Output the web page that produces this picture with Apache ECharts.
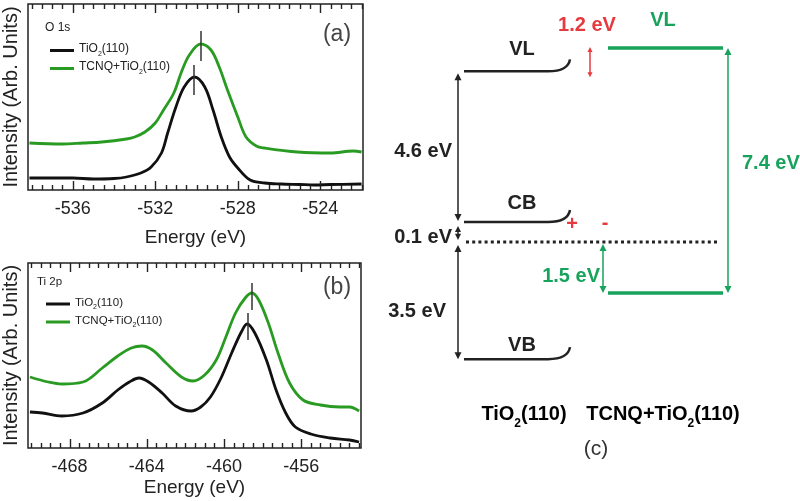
<!DOCTYPE html>
<html>
<head>
<meta charset="utf-8">
<script src="https://cdn.jsdelivr.net/npm/echarts@6/dist/echarts.min.js"></script>
<style>
  html, body { margin: 0; padding: 0; background: #fff; }
  #main { width: 800px; height: 501px; }
</style>
</head>
<body>
<div id="main"></div>
<script>
// ---- data ----
const NAME_BARE = 'TiO2(110)';
const NAME_TCNQ = 'TCNQ+TiO2(110)';

// (a) O 1s: [energy (eV), intensity (arb.)]
const o1sBare = [
  [-538.1, 12], [-537.0, 12], [-536.0, 12], [-535.0, 11], [-534.0, 11.5], [-533.4, 13],
  [-532.7, 17], [-532.2, 23], [-531.7, 37], [-531.4, 57], [-531.0, 83], [-530.6, 103],
  [-530.1, 113], [-529.6, 103], [-529.2, 80], [-528.8, 53], [-528.4, 33], [-528.0, 22],
  [-527.4, 10], [-526.7, 7], [-525.9, 6], [-525.0, 5.5], [-524.3, 5], [-523.5, 5.5], [-522.0, 6]
];
const o1sTcnq = [
  [-538.1, 47], [-536.5, 46], [-535.5, 47], [-534.6, 48], [-533.4, 51], [-533.0, 53],
  [-532.5, 58], [-532.0, 67], [-531.6, 80], [-531.1, 97], [-530.75, 117], [-530.35, 135],
  [-529.8, 146], [-529.3, 140], [-528.9, 123], [-528.5, 100], [-528.0, 73], [-527.6, 53],
  [-527.1, 44], [-526.7, 42], [-525.1, 38], [-523.5, 37], [-522.4, 39], [-522.0, 38]
];
// peak markers: [energy, from, to]
const o1sMarkBare = [-530.12, 95, 125];
const o1sMarkTcnq = [-529.78, 129, 159];

// (b) Ti 2p
const ti2pBare = [
  [-470.05, 36], [-469.4, 35], [-468.4, 32], [-467.3, 35], [-466.3, 45], [-465.5, 58],
  [-464.9, 66], [-464.4, 70], [-463.9, 66], [-463.2, 55], [-462.5, 42], [-461.7, 37],
  [-461.2, 41], [-460.7, 51], [-460.15, 70], [-459.6, 95], [-459.1, 116], [-458.8, 124],
  [-458.4, 115], [-457.8, 88], [-457.3, 58], [-456.8, 35], [-456.3, 21], [-455.5, 14],
  [-454.5, 10], [-453.5, 8], [-453.0, 6]
];
const ti2pTcnq = [
  [-470.05, 71], [-469.1, 66], [-468.4, 64], [-467.3, 66], [-466.3, 80], [-465.5, 92],
  [-464.8, 100], [-464.25, 102], [-463.7, 98], [-463.0, 85], [-462.2, 71], [-461.6, 67],
  [-461.0, 73], [-460.4, 88], [-459.9, 111], [-459.4, 135], [-458.9, 150], [-458.55, 155],
  [-458.2, 148], [-457.7, 125], [-457.2, 95], [-456.6, 65], [-455.9, 48], [-455.0, 43],
  [-454.0, 41], [-453.5, 41], [-453.0, 37]
];
const ti2pMarkBare = [-458.77, 108, 135];
const ti2pMarkTcnq = [-458.56, 138, 165];

const ticksA = [-536, -532, -528, -524];
const ticksB = [-468, -464, -460, -456];
const minorStep = 0.5;

// (c) energy levels, schematic heights relative to E_F (eV, as drawn)
const levelNames = ['VL', 'CB', 'VB', 'VL', ''];
const levelSide  = ['TiO2', 'TiO2', 'TiO2', 'TCNQ', 'TCNQ'];
const levelE     = [4.7, 0.55, -3.23, 5.34, -1.41];
const fermiE = 0;
const gapLabels = ['4.6 eV', '0.1 eV', '3.5 eV', '1.2 eV', '7.4 eV', '1.5 eV'];
const gapTop    = [4.7, 0.55, 0, 5.34, 5.34, 0];
const gapBottom = [0.55, 0, -3.23, 4.7, -1.41, -1.41];

// ---- styling / layout ----
const FONT = '"Liberation Sans", Arial, Helvetica, sans-serif';
const INK = '#222';
const SPEC_BLACK = '#111';
const SPEC_GREEN = '#2a9b22';
const DIAG_GREEN = '#17a35b';
const RED = '#e63a3f';

// diagram columns in diagram x units (0..100)
const COL = { TiO2: [21, 42], TCNQ: [57, 85.75], fermi: [21.5, 84.5] };
const levelLabelPos = [
  { u: 35.5, dy: -22 }, { u: 35.5, dy: -18 }, { u: 35.5, dy: -14 }, { u: 70.75, dy: -28 }, null
];
const gapLayout = [
  { u: 19.5, color: INK, align: 'right', dx: -6, dy: 4, pad: [2, 1] },
  { u: 19.5, color: INK, align: 'right', dx: -6, dy: 5, pad: [4, 2] },
  { u: 19.5, color: INK, align: 'right', dx: -12, dy: 9, pad: [3, 0] },
  { u: 52.5, color: RED, align: 'center', dx: -3, dy: -22, pad: [-1, -6], atTop: true, head: 5 },
  { u: 87, color: DIAG_GREEN, align: 'left', dx: 14, dy: -7, pad: [0, 0] },
  { u: 55.75, color: DIAG_GREEN, align: 'right', dx: -3, dy: 8, pad: [2, 0] }
];

function richName(name) {
  return name.replace(/^(.*TiO)2(\(110\))$/, '{n|$1}{s|2}{n|$2}');
}
function richStyles(size, color, weight) {
  return {
    n: { fontSize: size, fontFamily: FONT, color, fontWeight: weight, lineHeight: Math.round(size * 1.25), verticalAlign: 'top' },
    s: { fontSize: Math.round(size * 0.62), fontFamily: FONT, color, fontWeight: weight, lineHeight: Math.round(size * 0.6), verticalAlign: 'bottom' }
  };
}

function energyAxis(grid, min, max, majors, nameGap) {
  return {
    gridIndex: grid, type: 'value', min, max,
    splitLine: { show: false }, axisLine: { show: false, onZero: false }, axisTick: { show: false },
    axisLabel: { show: true, customValues: majors, margin: 10, fontSize: 18, color: INK, fontFamily: FONT },
    name: 'Energy (eV)', nameLocation: 'middle', nameGap,
    nameTextStyle: { fontSize: 19, color: INK, fontFamily: FONT }
  };
}

function intensityAxis(grid, max) {
  return {
    gridIndex: grid, type: 'value', min: 0, max,
    axisLine: { show: false }, axisTick: { show: false }, axisLabel: { show: false }, splitLine: { show: false },
    name: 'Intensity (Arb. Units)', nameLocation: 'middle', nameGap: 7, nameRotate: 90,
    nameTextStyle: { fontSize: 20, color: INK, fontFamily: FONT }
  };
}

function spectrum(name, data, color, grid, mark) {
  return {
    name, type: 'line', data, xAxisIndex: grid, yAxisIndex: grid,
    smooth: 0.35, showSymbol: false, symbol: 'none',
    lineStyle: { color, width: 2.8 }, itemStyle: { color },
    markLine: {
      silent: true, symbol: ['none', 'none'], label: { show: false },
      lineStyle: { color: '#333', width: 1.5, type: 'solid' },
      data: [[{ coord: [mark[0], mark[1]] }, { coord: [mark[0], mark[2]] }]]
    },
    z: 3
  };
}

function spectraLegend(left, top, size, gap) {
  return {
    left, top, orient: 'vertical', itemGap: gap, itemWidth: 24, itemHeight: 3, icon: 'rect',
    data: [NAME_BARE, NAME_TCNQ], formatter: richName,
    textStyle: { color: INK, fontFamily: FONT, rich: richStyles(size, INK, 'normal') }
  };
}

function arrowShapes(x, y1, y2, color, head) {
  const hl = Math.min(head || 7, (y2 - y1) / 2.3);
  const hw = hl * 0.5;
  return [
    { type: 'line', shape: { x1: x, y1: y1 + hl * 0.7, x2: x, y2: y2 - hl * 0.7 }, style: { stroke: color, lineWidth: 1.5 } },
    { type: 'polygon', shape: { points: [[x, y1], [x - hw, y1 + hl], [x + hw, y1 + hl]] }, style: { fill: color } },
    { type: 'polygon', shape: { points: [[x, y2], [x - hw, y2 - hl], [x + hw, y2 - hl]] }, style: { fill: color } }
  ];
}

const chart = echarts.init(document.getElementById('main'), null, { renderer: 'canvas' });

const diagramSeries = [
  {
    type: 'custom', xAxisIndex: 2, yAxisIndex: 2, silent: true,
    data: levelE.map((e, i) => [i, e]),
    renderItem(params, api) {
      const i = params.dataIndex;
      const e = api.value(1);
      const side = levelSide[i];
      const [x0, y] = api.coord([COL[side][0], e]);
      const x1 = api.coord([COL[side][1], e])[0];
      const children = [];
      if (side === 'TiO2') {
        children.push({ type: 'line', shape: { x1: x0, y1: y, x2: x1, y2: y }, style: { stroke: INK, lineWidth: 2.5 } });
        children.push({
          type: 'bezierCurve',
          shape: { x1: x1, y1: y, cpx1: x1 + 20, cpy1: y, x2: x1 + 22, y2: y - 12 },
          style: { stroke: INK, lineWidth: 2.5, fill: null }
        });
      } else {
        children.push({ type: 'line', shape: { x1: x0, y1: y, x2: x1, y2: y }, style: { stroke: DIAG_GREEN, lineWidth: 3.5 } });
      }
      const lp = levelLabelPos[i];
      if (lp && levelNames[i]) {
        children.push({
          type: 'text',
          style: {
            text: levelNames[i], x: api.coord([lp.u, e])[0], y: y + lp.dy,
            fill: side === 'TiO2' ? INK : DIAG_GREEN, fontSize: 20, fontWeight: 'bold', fontFamily: FONT,
            align: 'center', verticalAlign: 'middle'
          }
        });
      }
      return { type: 'group', children };
    }
  },
  {
    type: 'custom', xAxisIndex: 2, yAxisIndex: 2, silent: true,
    data: [[0, fermiE]],
    renderItem(params, api) {
      const [x0, y] = api.coord([COL.fermi[0], api.value(1)]);
      const x1 = api.coord([COL.fermi[1], api.value(1)])[0];
      return {
        type: 'line', shape: { x1: x0, y1: y, x2: x1, y2: y },
        style: { stroke: INK, lineWidth: 3, lineDash: [3, 3.2] }
      };
    }
  },
  {
    type: 'custom', xAxisIndex: 2, yAxisIndex: 2, silent: true,
    data: gapLabels.map((l, i) => [i, gapTop[i], gapBottom[i]]),
    renderItem(params, api) {
      const i = params.dataIndex;
      const lay = gapLayout[i];
      const [x, yt] = api.coord([lay.u, api.value(1)]);
      const yb = api.coord([lay.u, api.value(2)])[1];
      const y1 = yt + lay.pad[0];
      const y2 = yb - lay.pad[1];
      const children = arrowShapes(x, y1, y2, lay.color, lay.head);
      const ly = (lay.atTop ? y1 : (y1 + y2) / 2) + lay.dy;
      children.push({
        type: 'text',
        style: {
          text: gapLabels[i], x: x + lay.dx, y: ly, fill: lay.color,
          fontSize: 20, fontWeight: 'bold', fontFamily: FONT, align: lay.align, verticalAlign: 'middle'
        }
      });
      return { type: 'group', children };
    }
  }
];

const texts = [
  { type: 'text', x: 337, y: 35, style: { text: '(a)', fill: '#444', fontSize: 23, fontFamily: FONT, align: 'center', verticalAlign: 'middle' } },
  { type: 'text', x: 337, y: 288, style: { text: '(b)', fill: '#444', fontSize: 23, fontFamily: FONT, align: 'center', verticalAlign: 'middle' } },
  { type: 'text', x: 45, y: 28, style: { text: 'O 1s', fill: INK, fontSize: 12, fontFamily: FONT, align: 'left', verticalAlign: 'middle' } },
  { type: 'text', x: 37, y: 282, style: { text: 'Ti 2p', fill: INK, fontSize: 11.5, fontFamily: FONT, align: 'left', verticalAlign: 'middle' } },
  { type: 'text', x: 572, y: 224, style: { text: '+', fill: RED, fontSize: 20, fontWeight: 'bold', fontFamily: FONT, align: 'center', verticalAlign: 'middle' } },
  { type: 'text', x: 605, y: 223, style: { text: '-', fill: RED, fontSize: 20, fontWeight: 'bold', fontFamily: FONT, align: 'center', verticalAlign: 'middle' } },
  { type: 'text', x: 524, y: 417, style: { text: richName(NAME_BARE), rich: richStyles(20, INK, 'bold'), align: 'center', verticalAlign: 'middle' } },
  { type: 'text', x: 663, y: 417, style: { text: richName(NAME_TCNQ), rich: richStyles(20, DIAG_GREEN, 'bold'), align: 'center', verticalAlign: 'middle' } },
  { type: 'text', x: 596, y: 449, style: { text: '(c)', fill: '#333', fontSize: 21, fontFamily: FONT, align: 'center', verticalAlign: 'middle' } }
];

const option = {
  animation: false,
  backgroundColor: '#fff',
  grid: [
    { left: 26, top: 4, width: 337, height: 186, show: true, borderColor: INK, borderWidth: 1.5 },
    { left: 25, top: 263, width: 336, height: 185, show: true, borderColor: INK, borderWidth: 1.5 },
    { left: 380, top: 6, width: 400, height: 490 }
  ],
  xAxis: [
    energyAxis(0, -538.17, -521.93, ticksA, 38),
    energyAxis(1, -470.15, -452.9, ticksB, 30),
    { gridIndex: 2, type: 'value', min: 0, max: 100, show: false }
  ],
  yAxis: [
    intensityAxis(0, 186),
    intensityAxis(1, 185),
    { gridIndex: 2, type: 'value', min: -7, max: 6.5, show: false }
  ],
  legend: [
    spectraLegend(45, 38, 12, 3),
    spectraLegend(41, 292, 11.5, 4)
  ],
  graphic: texts,
  series: [
    spectrum(NAME_BARE, o1sBare, SPEC_BLACK, 0, o1sMarkBare),
    spectrum(NAME_TCNQ, o1sTcnq, SPEC_GREEN, 0, o1sMarkTcnq),
    spectrum(NAME_BARE, ti2pBare, SPEC_BLACK, 1, ti2pMarkBare),
    spectrum(NAME_TCNQ, ti2pTcnq, SPEC_GREEN, 1, ti2pMarkTcnq),
    ...diagramSeries
  ]
};

chart.setOption(option);

// inside ticks on the bottom and top frame, placed with each panel's x scale
const tickEls = [];
[[0, ticksA], [1, ticksB]].forEach(([g, majors]) => {
  const rect = option.grid[g];
  const min = option.xAxis[g].min;
  const max = option.xAxis[g].max;
  const yb = rect.top + rect.height;
  for (let v = Math.ceil(min / minorStep) * minorStep; v <= max; v += minorStep) {
    const x = Math.round(chart.convertToPixel({ xAxisIndex: g }, v)) + 0.5;
    const len = majors.includes(v) ? 9 : 5;
    tickEls.push({ type: 'line', z: 100, silent: true, shape: { x1: x, y1: yb, x2: x, y2: yb - len }, style: { stroke: INK, lineWidth: 1.4 } });
    tickEls.push({ type: 'line', z: 100, silent: true, shape: { x1: x, y1: rect.top, x2: x, y2: rect.top + len }, style: { stroke: INK, lineWidth: 1.4 } });
  }
});
chart.setOption({ graphic: texts.concat(tickEls) });
</script>
</body>
</html>
